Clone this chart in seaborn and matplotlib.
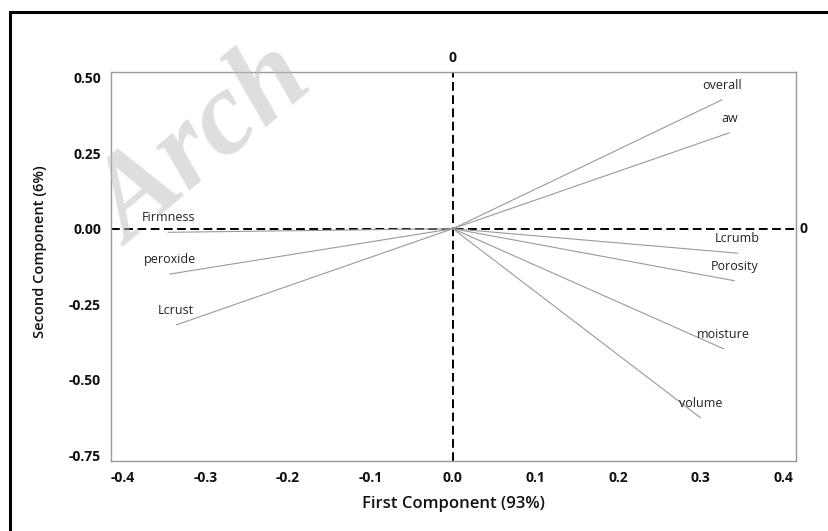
#!/usr/bin/env python3
"""Loading plot of the first two principal components."""

import matplotlib as mpl
import matplotlib.pyplot as plt
import pandas as pd
import seaborn as sns
from matplotlib.patches import Rectangle

mpl.use('Agg')

# Loadings
VARIABLES = ["overall", "aw", "Lcrumb", "Porosity", "moisture", "volume",
             "Firmness", "peroxide", "Lcrust"]
PC1 = [0.326, 0.335, 0.345, 0.341, 0.328, 0.300, -0.345, -0.343, -0.335]
PC2 = [0.426, 0.317, -0.081, -0.172, -0.397, -0.625, -0.012, -0.150, -0.318]

X_TICKS = [-0.4, -0.3, -0.2, -0.1, 0.0, 0.1, 0.2, 0.3, 0.4]
Y_TICKS = [0.50, 0.25, 0.00, -0.25, -0.50, -0.75]
X_LABEL = "First Component (93%)"
Y_LABEL = "Second Component (6%)"
WATERMARK = "Arch"

sns.set_theme(style="white")
plt.rcParams['font.family'] = ['Open Sans', 'DejaVu Sans']


def loading_frame():
    """One segment per variable: origin -> loading."""
    rows = []
    for var, x, y in zip(VARIABLES, PC1, PC2):
        rows.append({"var": var, "step": 0, "x": 0.0, "y": 0.0})
        rows.append({"var": var, "step": 1, "x": x, "y": y})
    return pd.DataFrame(rows)


def main():
    df = loading_frame()
    fig = plt.figure(figsize=(8.29, 5.31), dpi=100)
    ax = fig.add_axes([0.1335, 0.1318, 0.8265, 0.7332])

    sns.lineplot(data=df, x="x", y="y", units="var", estimator=None,
                 sort=False, color="#9a9a9a", linewidth=0.8, ax=ax)

    # Reference lines at zero
    dash = (0, (4.5, 2.3))
    ax.axhline(0, color="black", linewidth=1.4, linestyle=dash, zorder=1)
    ax.axvline(0, color="black", linewidth=1.4, linestyle=dash, zorder=1)
    ax.text(0, 1.018, "0", transform=ax.get_xaxis_transform(), ha="center",
            va="bottom", fontsize=10, fontweight="bold", color="#111111")
    ax.text(1.006, 0, "0", transform=ax.get_yaxis_transform(), ha="left",
            va="center", fontsize=10, fontweight="bold", color="#111111")

    # Variable labels above each end point
    for var, x, y in zip(VARIABLES, PC1, PC2):
        ax.annotate(var, (x, y), xytext=(0, 10.5), textcoords="offset points",
                    ha="center", va="center", fontsize=9, color="#222222")

    # Aesthetics
    ax.set_xlim(-0.4145, 0.4155)
    ax.set_ylim(-0.768, 0.519)
    ax.set_xticks(X_TICKS)
    ax.set_xticklabels([f"{t:.1f}" for t in X_TICKS])
    ax.set_yticks(Y_TICKS)
    ax.set_yticklabels([f"{t:.2f}" for t in Y_TICKS])
    ax.tick_params(axis="both", which="major", length=5, width=0.8,
                   color="#8c8c8c", labelsize=10, pad=2, labelcolor="#111111")
    for lab in ax.get_xticklabels() + ax.get_yticklabels():
        lab.set_fontweight("bold")
    for spine in ax.spines.values():
        spine.set_color("#9a9a9a")
        spine.set_linewidth(1.0)
    ax.set_xlabel(X_LABEL, fontsize=12, fontweight="semibold", color="#111111")
    ax.set_ylabel(Y_LABEL, fontsize=10.5, fontweight="semibold", color="#111111")
    ax.xaxis.set_label_coords(0.5, -0.09)
    ax.yaxis.set_label_coords(-0.093, 0.538)

    # Outer frame of the figure
    fig.patches.append(Rectangle((10 / 829, -0.1), 1.1, 1.1 - 12 / 531,
                                 transform=fig.transFigure, fill=False,
                                 edgecolor="black", linewidth=2.2))

    # Watermark, kept inside the figure
    fig.text(0.247, 0.725, WATERMARK, rotation=40, rotation_mode="anchor",
             ha="center", va="center", fontsize=86, fontweight="bold",
             fontstyle="italic", family="Liberation Serif", color="#bdbdbd",
             alpha=0.5, zorder=5)

    fig.savefig("out.png", dpi=100)
    plt.close(fig)


if __name__ == '__main__':
    main()
